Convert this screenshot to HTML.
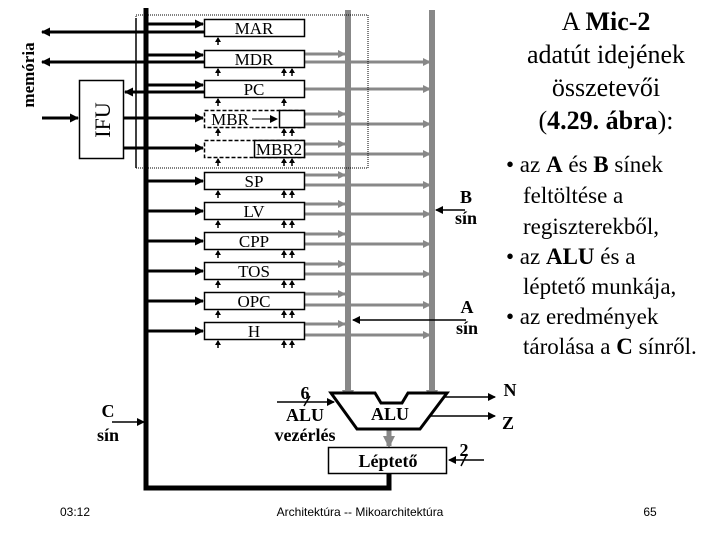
<!DOCTYPE html>
<html><head><meta charset="utf-8"><style>
html,body{margin:0;padding:0;background:#fff;width:720px;height:540px;overflow:hidden}
svg{display:block;font-family:"Liberation Serif",serif}
</style></head><body>
<svg width="720" height="540" viewBox="0 0 720 540" xmlns="http://www.w3.org/2000/svg">
<defs>
<marker id="ab" markerWidth="9" markerHeight="9" refX="8" refY="4.5" orient="auto" markerUnits="userSpaceOnUse"><path d="M0,0L9,4.5L0,9z" fill="#000"/></marker>
<marker id="as" markerWidth="5" markerHeight="6" refX="4" refY="3" orient="auto" markerUnits="userSpaceOnUse"><path d="M0,0L5,3L0,6z" fill="#000"/></marker>
<marker id="at" markerWidth="8" markerHeight="8" refX="7" refY="4" orient="auto" markerUnits="userSpaceOnUse"><path d="M0,0L8,4L0,8z" fill="#000"/></marker>
<marker id="ag" markerWidth="8" markerHeight="8" refX="7" refY="4" orient="auto" markerUnits="userSpaceOnUse"><path d="M0,0L8,4L0,8z" fill="#888"/></marker>
<marker id="agb" markerWidth="12" markerHeight="12" refX="10" refY="6" orient="auto" markerUnits="userSpaceOnUse"><path d="M0,0L12,6L0,12z" fill="#888"/></marker>
</defs>
<g stroke="#888" fill="none">
<line x1="348" y1="10" x2="348" y2="400" stroke-width="6" marker-end="url(#agb)"/>
<line x1="432" y1="10" x2="432" y2="400" stroke-width="6" marker-end="url(#agb)"/>
<g stroke-width="3">
<line x1="304" y1="54" x2="345" y2="54" marker-end="url(#ag)"/><line x1="304" y1="62" x2="430" y2="62" marker-end="url(#ag)"/>
<line x1="304" y1="89" x2="430" y2="89" marker-end="url(#ag)"/>
<line x1="304" y1="114" x2="345" y2="114" marker-end="url(#ag)"/><line x1="304" y1="124" x2="430" y2="124" marker-end="url(#ag)"/>
<line x1="304" y1="144" x2="345" y2="144" marker-end="url(#ag)"/><line x1="304" y1="154" x2="430" y2="154" marker-end="url(#ag)"/>
<line x1="304" y1="175" x2="345" y2="175" marker-end="url(#ag)"/><line x1="304" y1="185" x2="430" y2="185" marker-end="url(#ag)"/>
<line x1="304" y1="204" x2="345" y2="204" marker-end="url(#ag)"/><line x1="304" y1="214" x2="430" y2="214" marker-end="url(#ag)"/>
<line x1="304" y1="234" x2="345" y2="234" marker-end="url(#ag)"/><line x1="304" y1="244" x2="430" y2="244" marker-end="url(#ag)"/>
<line x1="304" y1="264" x2="345" y2="264" marker-end="url(#ag)"/><line x1="304" y1="274" x2="430" y2="274" marker-end="url(#ag)"/>
<line x1="304" y1="294" x2="345" y2="294" marker-end="url(#ag)"/><line x1="304" y1="305" x2="430" y2="305" marker-end="url(#ag)"/>
<line x1="304" y1="324" x2="345" y2="324" marker-end="url(#ag)"/><line x1="304" y1="335" x2="430" y2="335" marker-end="url(#ag)"/>
<line x1="389" y1="429" x2="389" y2="446" stroke-width="5" marker-end="url(#agb)"/>
</g></g>
<rect x="136" y="15" width="232" height="153" fill="none" stroke="#000" stroke-width="1" stroke-dasharray="1,1"/>
<line x1="136" y1="18" x2="136" y2="168" stroke="#000" stroke-width="1.5"/>
<path d="M146 8 V488 H389 V473" fill="none" stroke="#000" stroke-width="5"/>
<g stroke="#000" stroke-width="3" fill="none">
<line x1="146" y1="24" x2="203" y2="24" marker-end="url(#ab)"/>
<line x1="146" y1="55" x2="203" y2="55" marker-end="url(#ab)"/>
<line x1="146" y1="85" x2="203" y2="85" marker-end="url(#ab)"/>
<line x1="124" y1="118" x2="203" y2="118" marker-end="url(#ab)"/>
<line x1="124" y1="148" x2="203" y2="148" marker-end="url(#ab)"/>
<line x1="146" y1="181" x2="203" y2="181" marker-end="url(#ab)"/>
<line x1="146" y1="211" x2="203" y2="211" marker-end="url(#ab)"/>
<line x1="146" y1="241" x2="203" y2="241" marker-end="url(#ab)"/>
<line x1="146" y1="271" x2="203" y2="271" marker-end="url(#ab)"/>
<line x1="146" y1="301" x2="203" y2="301" marker-end="url(#ab)"/>
<line x1="146" y1="331" x2="203" y2="331" marker-end="url(#ab)"/>
<line x1="204" y1="32" x2="42" y2="32" marker-end="url(#ab)"/>
<line x1="204" y1="62" x2="42" y2="62" marker-end="url(#ab)"/>
<line x1="204" y1="92" x2="125" y2="92" marker-end="url(#ab)"/>
<line x1="42" y1="118" x2="78" y2="118" marker-end="url(#ab)"/>
</g>
<rect x="79.5" y="80.5" width="44" height="78" fill="#fff" stroke="#000" stroke-width="1.5"/>
<text transform="translate(110,120) rotate(-90)" font-size="22" text-anchor="middle">IFU</text>
<text transform="translate(34,75) rotate(-90)" font-size="17" font-weight="bold" text-anchor="middle">memória</text>
<g stroke="#000" stroke-width="1.5" fill="#fff">
<rect x="204.5" y="19.5" width="100" height="17"/>
<rect x="204.5" y="50.5" width="100" height="17"/>
<rect x="204.5" y="80.5" width="100" height="17"/>
<rect x="204.5" y="110.5" width="100" height="17" stroke-dasharray="4,2"/>
<rect x="279.5" y="110.5" width="25" height="17"/>
<rect x="204.5" y="140.5" width="100" height="17" stroke-dasharray="4,2"/>
<rect x="254.5" y="140.5" width="50" height="17"/>
<rect x="204.5" y="172.5" width="100" height="17"/>
<rect x="204.5" y="202.5" width="100" height="17"/>
<rect x="204.5" y="232.5" width="100" height="17"/>
<rect x="204.5" y="262.5" width="100" height="17"/>
<rect x="204.5" y="292.5" width="100" height="17"/>
<rect x="204.5" y="322.5" width="100" height="17"/>
</g>
<line x1="252" y1="119" x2="277" y2="119" stroke="#000" stroke-width="1" marker-end="url(#at)"/>
<g font-size="17" text-anchor="middle">
<text x="254" y="34">MAR</text><text x="254" y="65">MDR</text><text x="254" y="95">PC</text>
<text x="230" y="125">MBR</text><text x="279" y="155">MBR2</text>
<text x="254" y="187">SP</text><text x="254" y="217">LV</text><text x="254" y="247">CPP</text>
<text x="254" y="277">TOS</text><text x="254" y="307">OPC</text><text x="254" y="337">H</text>
</g>
<g stroke="#000" stroke-width="1.5">
<line x1="218" y1="45" x2="218" y2="38" marker-end="url(#as)"/>
<g id="cc"><line x1="218" y1="76" x2="218" y2="69" marker-end="url(#as)"/><line x1="284" y1="76" x2="284" y2="69" marker-end="url(#as)"/><line x1="292" y1="76" x2="292" y2="69" marker-end="url(#as)"/></g>
<line x1="218" y1="106" x2="218" y2="99" marker-end="url(#as)"/><line x1="284" y1="106" x2="284" y2="99" marker-end="url(#as)"/>
<use href="#cc" y="60"/><use href="#cc" y="90"/><use href="#cc" y="122"/><use href="#cc" y="152"/>
<use href="#cc" y="182"/><use href="#cc" y="212"/><use href="#cc" y="242"/><use href="#cc" y="272"/>
</g>
<g stroke="#000" stroke-width="1.5">
<line x1="465" y1="210" x2="436" y2="210" marker-end="url(#at)"/>
<line x1="466" y1="320" x2="353" y2="320" marker-end="url(#at)"/>
<line x1="112" y1="422" x2="144" y2="422" marker-end="url(#at)"/>
<line x1="277" y1="402" x2="334" y2="402" marker-end="url(#at)"/>
<line x1="304" y1="406" x2="310" y2="396"/>
<line x1="484" y1="460" x2="449" y2="460" marker-end="url(#at)"/>
<line x1="461" y1="466" x2="467" y2="454"/>
<line x1="440" y1="397" x2="495" y2="397" marker-end="url(#at)"/>
<line x1="430" y1="416" x2="495" y2="416" marker-end="url(#at)"/>
</g>
<polygon points="331,393 375,393 381,403 402,403 408,393 447,393 420,429 357,429" fill="#fff" stroke="#000" stroke-width="3"/>
<rect x="328.5" y="447.5" width="118" height="26" fill="#fff" stroke="#000" stroke-width="1.5"/>
<g font-size="18" font-weight="bold" text-anchor="middle">
<text x="466" y="203">B</text><text x="466" y="224">sín</text>
<text x="467" y="313">A</text><text x="467" y="334">sín</text>
<text x="108" y="417">C</text><text x="108" y="441">sín</text>
<text x="305" y="399">6</text><text x="305" y="421">ALU</text><text x="305" y="441">vezérlés</text>
<text x="390" y="420">ALU</text><text x="388" y="467">Léptető</text>
<text x="464" y="456">2</text>
<text x="510" y="396">N</text><text x="508" y="429">Z</text>
</g>
<g font-size="26" text-anchor="middle">
<text x="606" y="30">A <tspan font-weight="bold">Mic-2</tspan></text>
<text x="606" y="63">adatút idejének</text>
<text x="606" y="96">összetevői</text>
<text x="606" y="129">(<tspan font-weight="bold">4.29. ábra</tspan>):</text>
</g>
<g font-size="23">
<text x="506" y="172">• az <tspan font-weight="bold">A</tspan> és <tspan font-weight="bold">B</tspan> sínek</text>
<text x="523" y="203">feltöltése a</text>
<text x="523" y="234">regiszterekből,</text>
<text x="506" y="264">• az <tspan font-weight="bold">ALU</tspan> és a</text>
<text x="523" y="294">léptető munkája,</text>
<text x="506" y="324">• az eredmények</text>
<text x="523" y="354">tárolása a <tspan font-weight="bold">C</tspan> sínről.</text>
</g>
<g font-family="Liberation Sans,sans-serif" font-size="12">
<text x="60" y="516">03:12</text>
<text x="360" y="516" text-anchor="middle">Architektúra -- Mikoarchitektúra</text>
<text x="650" y="516" text-anchor="middle">65</text>
</g>
</svg>
</body></html>
